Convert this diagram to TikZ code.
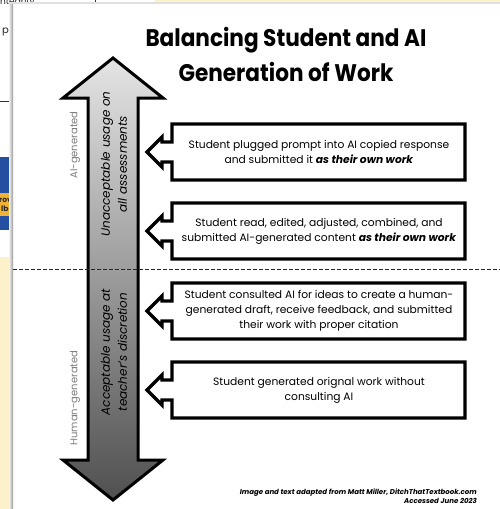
\documentclass[tikz,border=0pt]{standalone}
\usepackage{fontspec}
\setmainfont{Poppins}
\usetikzlibrary{shadings}
\definecolor{cream}{RGB}{253,241,204}
\definecolor{bandblue}{RGB}{35,80,160}
\definecolor{bandyellow}{RGB}{240,178,50}
\definecolor{arrowtop}{RGB}{228,228,228}
\definecolor{arrowbot}{RGB}{80,80,80}
\definecolor{sidegray}{RGB}{125,125,125}
\newcommand\calloutshape[1]{%
  \draw[boxline] (172,#1-28) -- (465,#1-28) -- (465,#1+28) -- (172,#1+28) -- (172,#1+10) -- (162,#1+10) -- (162,#1+15) -- (147,#1) -- (162,#1-15) -- (162,#1-10) -- (172,#1-10) -- cycle;}
\begin{document}
\begin{tikzpicture}[x=1pt,y=-1pt,
  boxtext/.style={align=center,font=\fontsize{10.7}{14.8}\selectfont,inner sep=0pt},
  boxline/.style={draw=black,line width=3.2pt,line join=miter,fill=white},
  arrowtext/.style={rotate=90,align=center,font=\fontsize{12}{17}\selectfont\itshape},
  sidelabel/.style={rotate=90,text=sidegray,font=\fontsize{10}{12}\selectfont},
  bgtext/.style={font=\fontsize{9}{10}\selectfont,text=black!85,inner sep=0pt}]
\useasboundingbox (0,0) rectangle (500,509);
\clip (0,0) rectangle (500,509);
% background screenshot pieces
\fill[white] (0,0) rectangle (500,509);
\fill[cream] (155,0) rectangle (500,3);
\fill[bandblue] (0,157) rectangle (13,230);
\fill[bandyellow] (0,193) rectangle (13,216);
\fill[cream] (0,257) rectangle (13,509);
\node[bgtext,anchor=base west] (bg1) at (0,4) {ntegrity};
\node[bgtext,anchor=base west,font=\fontsize{10}{10}\selectfont] (bg2) at (2,33) {p};
\node[bgtext,anchor=base west,font=\fontsize{7.5}{8}\selectfont\bfseries] (bg3) at (-1,202) {rov};
\node[bgtext,anchor=base west,font=\fontsize{7.5}{8}\selectfont\bfseries] (bg4) at (1,211) {lba};
\coordinate (bl1) at (0,101);
\coordinate (bl2) at (13,101);
\draw[black!80,line width=0.8pt] (bl1) -- (bl2);
\coordinate (tk1) at (95,0);
\coordinate (tk2) at (95,3);
\draw[black!80,line width=0.8pt] (tk1) -- (tk2);
% card
\fill[white] (13,3) rectangle (500,509);
\shade[left color=black!5,right color=black!40] (9,3) rectangle (13,509);
\fill[black!12] (9,2) rectangle (500,3.5);
% title
\node[font=\fontsize{24}{35}\selectfont\bfseries,align=center] (title) at (286,54) {\scalebox{0.9}[1]{Balancing Student and AI}\\\scalebox{0.9}[1]{Generation of Work}};
% big double arrow
\path[top color=arrowtop,bottom color=arrowbot,draw=black,line width=3pt,line join=miter]
  (113,58) -- (163,98) -- (138,98) -- (138,460) -- (163,460) -- (113,500) -- (63,460) -- (88,460) -- (88,98) -- (63,98) -- cycle;
\node[arrowtext] (unacc) at (114,164) {Unacceptable usage on\\all assessments};
\node[arrowtext] (acc) at (114,352) {Acceptable usage at\\teacher's discretion};
\node[sidelabel] (aigen) at (75,145) {AI-generated};
\node[sidelabel] (humgen) at (75,398) {Human-generated};
% dashed divider
\coordinate (dl) at (13,269);
\coordinate (dr) at (500,269);
\draw[line width=1pt,black!85,dash pattern=on 4pt off 2pt] (dl) -- (dr);
% callouts
\calloutshape{152}
\node[boxtext] (b1) at (319,152) {Student plugged prompt into AI copied response\\and submitted it \textbf{\textit{as their own work}}};
\calloutshape{231}
\node[boxtext] (b2) at (319,231) {Student read, edited, adjusted, combined, and\\submitted AI-generated content \textbf{\textit{as their own work}}};
\calloutshape{311}
\node[boxtext] (b3) at (319,311) {Student consulted AI for ideas to create a human-\\generated draft, receive feedback, and submitted\\their work with proper citation};
\calloutshape{390}
\node[boxtext] (b4) at (319,390) {Student generated orignal work without\\consulting AI};
% credit
\node[anchor=east,align=right,inner sep=0pt,font=\fontsize{7}{8.7}\selectfont\bfseries\itshape] (credit) at (477,496) {Image and text adapted from Matt Miller, DitchThatTextbook.com\\Accessed June 2023};
\end{tikzpicture}
\end{document}
